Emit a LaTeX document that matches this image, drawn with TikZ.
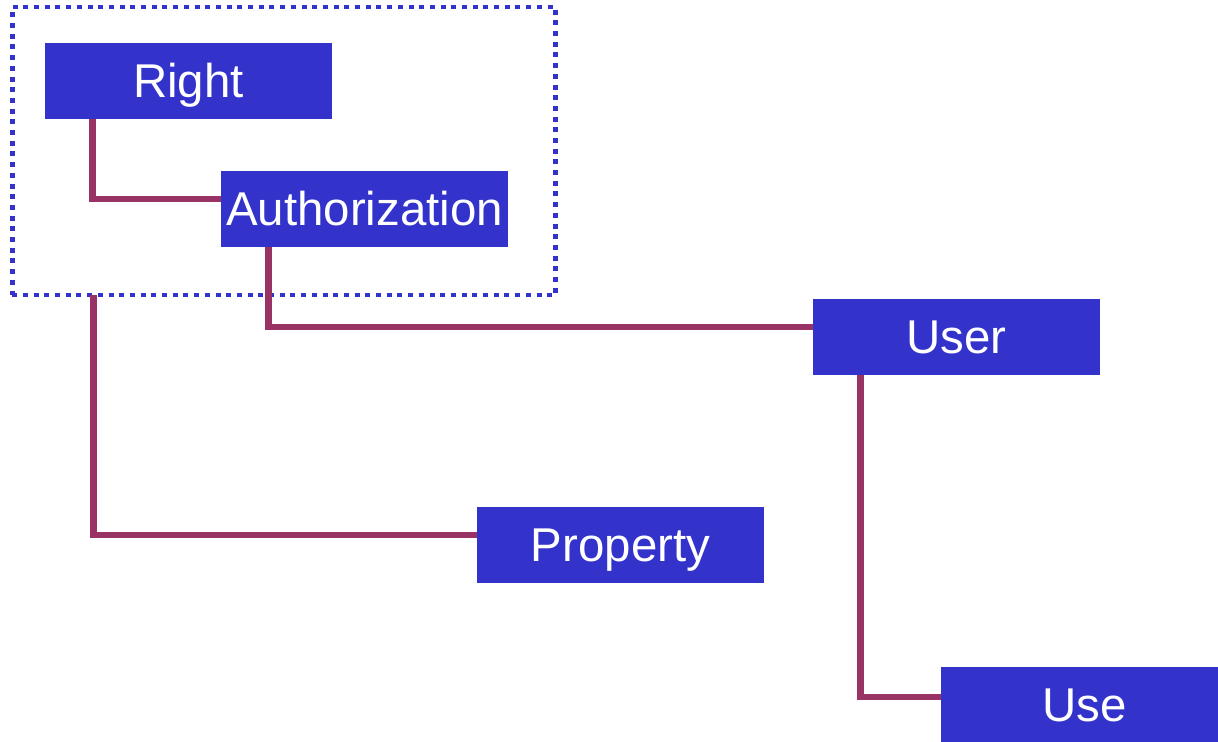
\documentclass[tikz,border=0pt]{standalone}
\usepackage{fontspec}
\setmainfont{Liberation Sans}
\usepackage{xcolor}
\usepackage{tikz}

\definecolor{boxblue}{HTML}{3333CC}
\definecolor{linkplum}{HTML}{993366}

\begin{document}
\begin{tikzpicture}[x=0.02cm, y=-0.02cm,
		entity/.style={fill=boxblue, text=white, inner sep=0pt,
			minimum width=5.74cm, minimum height=1.52cm,
			text height=19.3pt, text depth=0pt,
			font=\fontsize{27pt}{30pt}\selectfont},
		groupbox/.style={draw=boxblue, line width=2.8pt,
			dash pattern=on 0.1cm off 0.114cm, inner sep=0pt, outer sep=0pt,
			minimum width=10.87cm, minimum height=5.76cm},
		link/.style={draw=linkplum, line width=3.8pt, line join=miter}]
		\useasboundingbox (0, 0) rectangle (1218, 741);
		% Picture nodes
		%% Grouping frame
		\node[groupbox] (grp) at (284, 151) {};
		%% Entities
		\node[entity] (right) at (188.5, 81) {Right};
		\node[entity] (auth) at (364.5, 209) {Authorization};
		\node[entity] (user) at (956.5, 337) {User};
		\node[entity] (prop) at (620.5, 545) {Property};
		\node[entity] (use) at (1084.5, 705) {Use};
		% Picture arcs
		\draw[link] ([xshift=0.96cm]right.south west) |- ([yshift=0.2cm]auth.west);
		\draw[link] ([xshift=0.96cm]auth.south west) |- ([yshift=0.2cm]user.west);
		\draw[link] ([xshift=1.62cm]grp.south west) |- ([yshift=0.2cm]prop.west);
		\draw[link] ([xshift=0.96cm]user.south west) |- ([yshift=0.16cm]use.west);
	\end{tikzpicture}
\end{document}
